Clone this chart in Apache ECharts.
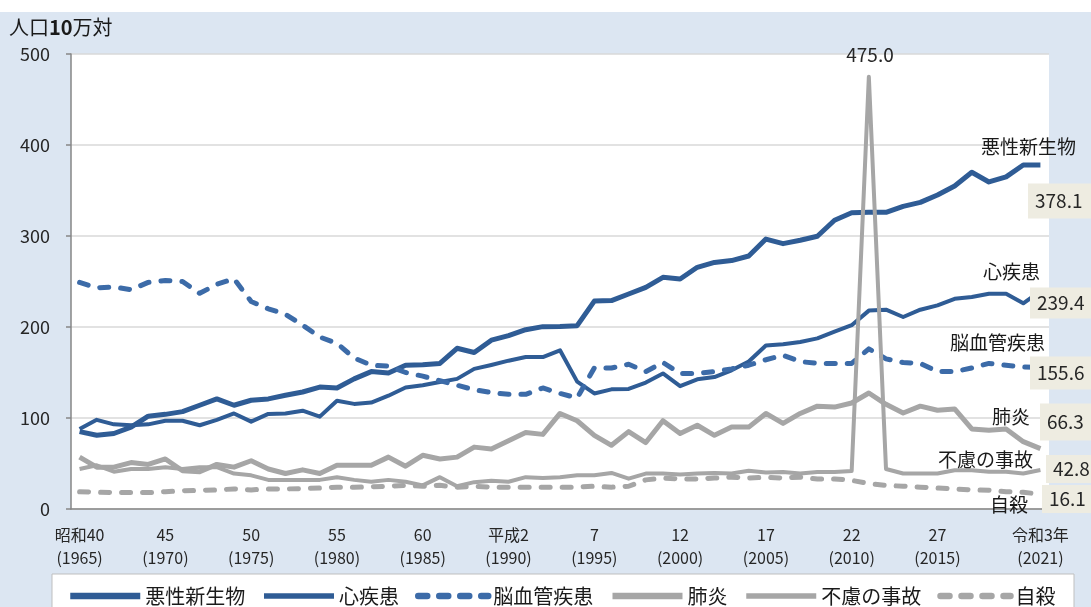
<!DOCTYPE html>
<html>
<head>
<meta charset="utf-8">
<script src="https://cdn.jsdelivr.net/npm/echarts@6.0.0/dist/echarts.min.js"></script>
<style>
  html, body { margin: 0; padding: 0; background: #fff; }
  #main { width: 1091px; height: 607px; }
</style>
</head>
<body>
<div id="main"></div>
<script>
var FONT = '"Noto Sans CJK JP", "Noto Sans", sans-serif';

// 年（昭和40〜令和3年）
var years = [1965, 1966, 1967, 1968, 1969, 1970, 1971, 1972, 1973, 1974,
  1975, 1976, 1977, 1978, 1979, 1980, 1981, 1982, 1983, 1984,
  1985, 1986, 1987, 1988, 1989, 1990, 1991, 1992, 1993, 1994,
  1995, 1996, 1997, 1998, 1999, 2000, 2001, 2002, 2003, 2004,
  2005, 2006, 2007, 2008, 2009, 2010, 2011, 2012, 2013, 2014,
  2015, 2016, 2017, 2018, 2019, 2020, 2021];

// 目盛ラベル（和暦 / 西暦）
var eraLabels = {
  1965: '昭和40', 1970: '45', 1975: '50', 1980: '55', 1985: '60',
  1990: '平成2', 1995: '7', 2000: '12', 2005: '17', 2010: '22',
  2015: '27', 2021: '令和3年'
};

var seriesNames = ['悪性新生物', '心疾患', '脳血管疾患', '肺炎', '不慮の事故', '自殺'];

// 人口10万対 死亡率
var cancer = [85, 81, 83, 90, 102, 104, 107, 114, 121, 114,
  119.5, 121, 125, 128.6, 134, 133, 143, 151, 149.5, 158,
  158.5, 160, 176.6, 172, 185.5, 190.5, 197, 200.4, 200.5, 201.5,
  228.5, 229, 236.3, 243.6, 254.6, 252.8, 265.6, 271, 273, 278,
  296.6, 291.6, 295.3, 299.7, 317.3, 325.5, 326, 326, 332.6, 337,
  345, 355, 370, 359.4, 365, 378, 378.1];

var heart = [88, 98, 93, 92, 93, 97, 97, 92, 98, 105,
  96, 104.5, 105, 108, 101.5, 119, 115.5, 117, 124.5, 133.5,
  136, 139.5, 143, 154, 158.3, 163, 167, 167, 174.4, 140,
  127, 131.5, 132, 139, 149, 135, 142.5, 145, 152.4, 162,
  179.7, 181, 183.5, 187.5, 195, 202, 218, 219, 211, 219,
  223.8, 231, 233, 236.5, 236.5, 226, 239.4];

var stroke = [249, 243, 244, 241, 249, 251, 250, 237, 247, 253,
  228, 220, 214, 202, 189, 182, 166, 158, 157, 150,
  146, 141, 136, 131, 128, 126, 126, 133, 127, 122,
  155, 155, 159, 151, 161, 149, 149, 151, 154, 158,
  164, 169, 162, 160, 160, 160, 176, 165, 161, 160,
  151, 151, 155, 160, 158, 156, 155.6];

var pneumonia = [57, 46, 46, 51, 49, 55, 42, 41, 49, 46,
  53, 44, 39, 43, 39, 48, 48, 48, 57, 47,
  59, 55, 57, 68, 66, 75, 84, 82, 105, 97,
  81, 70, 85, 73, 97, 83, 92, 81, 90, 90,
  105, 94, 105, 113, 112, 116.5, 127.5, 115, 105.5, 113,
  108.5, 110, 88, 86.5, 88, 74, 66.3];

var accident = [44, 48, 41, 44, 44, 46, 44, 46, 46, 39,
  37, 32, 32, 32, 32, 35, 32, 30, 32, 30,
  26, 35, 25, 29.5, 31, 30, 35, 34, 35, 37,
  37, 39.6, 33.3, 38.9, 39, 38, 39, 39.6, 39, 42,
  40, 40.7, 39, 40.7, 40.7, 41.8, 475.0, 44, 39, 39,
  39, 42.5, 42.5, 41, 41, 39, 42.8];

var suicide = [19, 18.5, 18, 18, 18, 19, 20, 20.5, 21, 22,
  21, 22, 22, 22.5, 23, 24, 24, 24.5, 25, 26,
  25, 26, 24, 25, 24, 24, 24, 24, 24, 24,
  25, 24, 25, 32, 34, 33, 33, 34, 35, 34,
  35, 34, 35, 33, 33, 31.5, 28, 26, 25, 24,
  23, 22, 21, 20.5, 19, 18.5, 16.1];

var DARK = '#2f5c95';
var MID = '#3c6ba8';
var GREY = '#a6a6a6';

// 系列ごとの線の見た目
var looks = [
  { color: DARK, width: 5, dashed: false },
  { color: DARK, width: 4, dashed: false },
  { color: MID, width: 5, dashed: true },
  { color: GREY, width: 5, dashed: false },
  { color: GREY, width: 4, dashed: false },
  { color: GREY, width: 5, dashed: true }
];

function last(arr) { return arr[arr.length - 1].toFixed(1); }

function lineStyleOf(lk, w) {
  return {
    color: lk.color,
    width: w,
    type: lk.dashed ? [9, 12] : 'solid',
    cap: lk.dashed ? 'round' : 'butt',
    join: 'round'
  };
}

function mkLine(idx, data) {
  var lk = looks[idx];
  return {
    name: seriesNames[idx],
    type: 'line',
    data: data,
    symbol: 'none',
    lineStyle: lineStyleOf(lk, lk.width),
    itemStyle: { color: lk.color },
    emphasis: { disabled: true }
  };
}

// 右端のラベル（位置は手で配置）
function nameText(txt, x, y) {
  return { type: 'text', x: x, y: y, z: 100,
    style: { text: txt, font: '19px ' + FONT, fill: '#1a1a1a', verticalAlign: 'middle' } };
}
function valueBox(txt, x, y, h) {
  return [
    { type: 'rect', z: 99, shape: { x: x, y: y - h / 2, width: 1091 - x, height: h },
      style: { fill: '#eeece1' } },
    { type: 'text', x: x + 7, y: y, z: 100,
      style: { text: txt, font: '19px ' + FONT, fill: '#262626', verticalAlign: 'middle' } }
  ];
}

var graphics = [
  { type: 'rect', z: 0, shape: { x: 0, y: 0, width: 1091, height: 12 }, style: { fill: '#fff' } },
  { type: 'rect', z: 1, shape: { x: 52, y: 574, width: 1022, height: 45 },
    style: { fill: '#fff', stroke: '#bfbfbf', lineWidth: 1 } },
  { type: 'text', x: 9, y: 27, z: 100,
    style: { text: '人口{b|10}万対', font: '20px ' + FONT, fill: '#1a1a1a', verticalAlign: 'middle',
      rich: { b: { fontWeight: 'bold', fontSize: 20, fontFamily: FONT } } } },
  { type: 'text', x: 870, y: 55, z: 100,
    style: { text: Math.max.apply(null, accident).toFixed(1), font: '19px ' + FONT, fill: '#262626',
      align: 'center', verticalAlign: 'middle' } },
  nameText(seriesNames[0], 981, 147),
  nameText(seriesNames[1], 983, 272),
  nameText(seriesNames[2], 950, 343),
  nameText(seriesNames[3], 992, 417),
  nameText(seriesNames[4], 938, 460),
  nameText(seriesNames[5], 990, 505)
].concat(
  valueBox(last(cancer), 1028, 201, 35),
  valueBox(last(heart), 1030, 303, 31),
  valueBox(last(stroke), 1030, 373, 33),
  valueBox(last(pneumonia), 1040, 422, 37),
  valueBox(last(accident), 1046, 469, 28),
  valueBox(last(suicide), 1042, 499, 28)
);

var legendData = seriesNames.map(function (n, i) {
  var lk = looks[i];
  return {
    name: n,
    itemStyle: { opacity: 0 },
    lineStyle: lineStyleOf(lk, lk.width + 1.5)
  };
});

var chart = echarts.init(document.getElementById('main'));
chart.setOption({
  backgroundColor: '#dce6f2',
  animation: false,
  textStyle: { fontFamily: FONT },
  grid: { left: 71, right: 42, top: 54, bottom: 98, show: true, backgroundColor: '#fff', borderWidth: 0 },
  xAxis: {
    type: 'category',
    data: years,
    boundaryGap: true,
    axisLine: { lineStyle: { color: '#868686', width: 1.5 } },
    axisTick: {
      inside: true, length: 6, lineStyle: { color: '#868686', width: 1.5 },
      interval: function (i) { return i % 5 === 0 && i <= 50; }
    },
    axisLabel: {
      interval: function (i) { return eraLabels[years[i]] !== undefined; },
      formatter: function (v) { return eraLabels[v] + '\n(' + v + ')'; },
      fontSize: 16, lineHeight: 23, color: '#262626', margin: 14, fontFamily: FONT
    }
  },
  yAxis: {
    type: 'value', min: 0, max: 500, interval: 100,
    axisLine: { show: true, lineStyle: { color: '#868686', width: 1.5 } },
    axisTick: { show: true, length: 5, lineStyle: { color: '#868686', width: 1.5 } },
    splitLine: { lineStyle: { color: '#d9d9d9', width: 1.5 } },
    axisLabel: { fontSize: 18, color: '#262626', margin: 21, fontFamily: FONT }
  },
  legend: {
    left: 62, top: 581,
    itemWidth: 70, itemHeight: 14, itemGap: 16,
    textStyle: { fontSize: 20, color: '#1a1a1a', fontFamily: FONT },
    data: legendData
  },
  series: [
    mkLine(0, cancer),
    mkLine(1, heart),
    mkLine(2, stroke),
    mkLine(3, pneumonia),
    mkLine(4, accident),
    mkLine(5, suicide)
  ],
  graphic: graphics
});
</script>
</body>
</html>
